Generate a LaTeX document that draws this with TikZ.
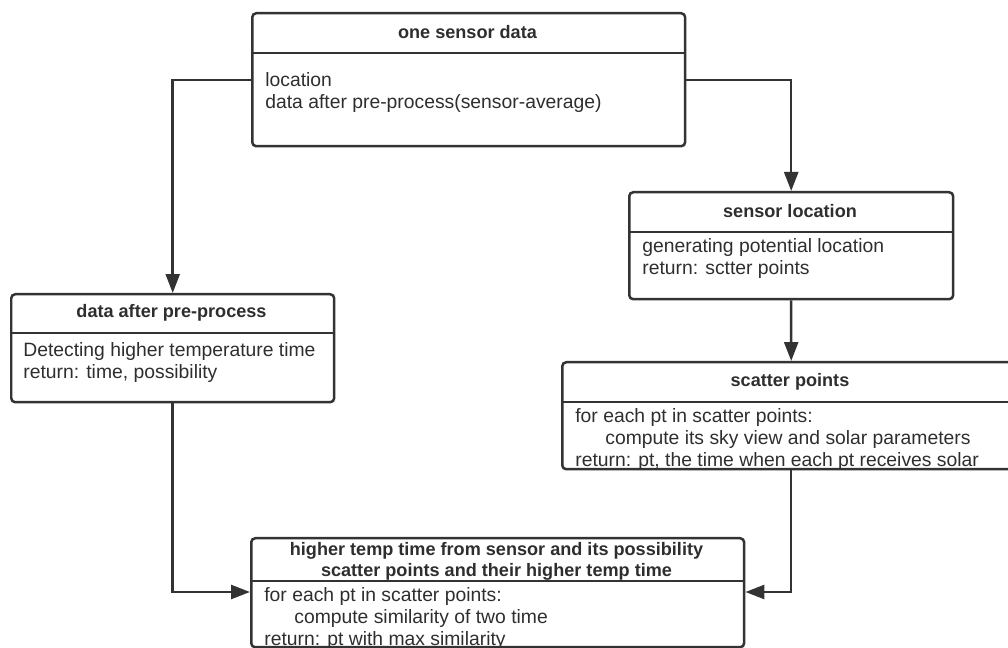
\documentclass[tikz,border=0pt]{standalone}
\usepackage{fontspec}
\setmainfont{Liberation Sans}
\usetikzlibrary{arrows.meta}
\definecolor{inkgray}{HTML}{333333}
\definecolor{textgray}{HTML}{2E2E2E}
\tikzset{
  frame/.style={draw=inkgray, line width=0.05cm, rounded corners=0.08cm, anchor=north west, inner sep=0pt},
  divider/.style={draw=inkgray, line width=0.045cm},
  head/.style={text=textgray, font=\fontsize{10.3}{12}\selectfont\bfseries, align=center, inner sep=0pt},
  body/.style={text=textgray, font=\fontsize{11}{12.6}\selectfont, align=left, anchor=north west, inner sep=0pt},
  arr/.style={draw=inkgray, line width=0.05cm, -{Triangle[length=0.38cm, width=0.28cm]}}
}
\begin{document}
\begin{tikzpicture}[x=0.02cm, y=-0.02cm]
    \clip (0,0) rectangle (1008,648);

    % Riquadri
    \node[frame, minimum width=8.66cm, minimum height=2.66cm] (one) at (251,12) {};
    \node[frame, minimum width=6.48cm, minimum height=2.14cm] (loc) at (628,191) {};
    \node[frame, minimum width=6.46cm, minimum height=2.16cm] (pre) at (10,293) {};
    \node[frame, minimum width=9.16cm, minimum height=2.14cm] (scat) at (561,361) {};
    \node[frame, minimum width=9.86cm, minimum height=2.18cm] (fin) at (250,537) {};

    % Linee di separazione
    \draw[divider] ([yshift=-0.82cm]one.north west) -- ([yshift=-0.82cm]one.north east);
    \draw[divider] ([yshift=-0.82cm]loc.north west) -- ([yshift=-0.82cm]loc.north east);
    \draw[divider] ([yshift=-0.80cm]pre.north west) -- ([yshift=-0.80cm]pre.north east);
    \draw[divider] ([yshift=-0.82cm]scat.north west) -- ([yshift=-0.82cm]scat.north east);
    \draw[divider] ([yshift=-0.88cm]fin.north west) -- ([yshift=-0.88cm]fin.north east);

    % Titoli
    \node[head] (oneHead) at (467.5,32.5) {one sensor data};
    \node[head] (locHead) at (790,211.5) {sensor location};
    \node[head] (preHead) at (171.5,313) {data after pre-process};
    \node[head] (scatHead) at (790,381.5) {scatter points};
    \node[head] (finHead) at (496.5,561) {higher temp time from sensor and its possibility\\scatter points and their higher temp time};

    % Testi
    \node[body] (oneBody) at (265,72) {location\\data after pre-process(sensor-average)};
    \node[body] (locBody) at (642,238) {generating potential location\\return: sctter points};
    \node[body] (preBody) at (23,342) {Detecting higher temperature time\\return: time, possibility};
    \node[body] (scatBody) at (575,408) {for each pt in scatter points:\\\hspace*{0.6cm}compute its sky view and solar parameters\\return: pt, the time when each pt receives solar};
    \node[body] (finBody) at (264,587) {for each pt in scatter points:\\\hspace*{0.6cm}compute similarity of two time\\return: pt with max similarity};

    % Frecce
    \coordinate (split) at (0,80);
    \coordinate (join) at (0,592);
    \draw[arr] (one.west |- split) -| (pre.north);
    \draw[arr] (one.east |- split) -| (loc.north);
    \draw[arr] (loc.south) -- (scat.north);
    \draw[arr] (pre.south) |- (fin.west |- join);
    \draw[arr] (scat.south) |- (fin.east |- join);
\end{tikzpicture}
\end{document}
